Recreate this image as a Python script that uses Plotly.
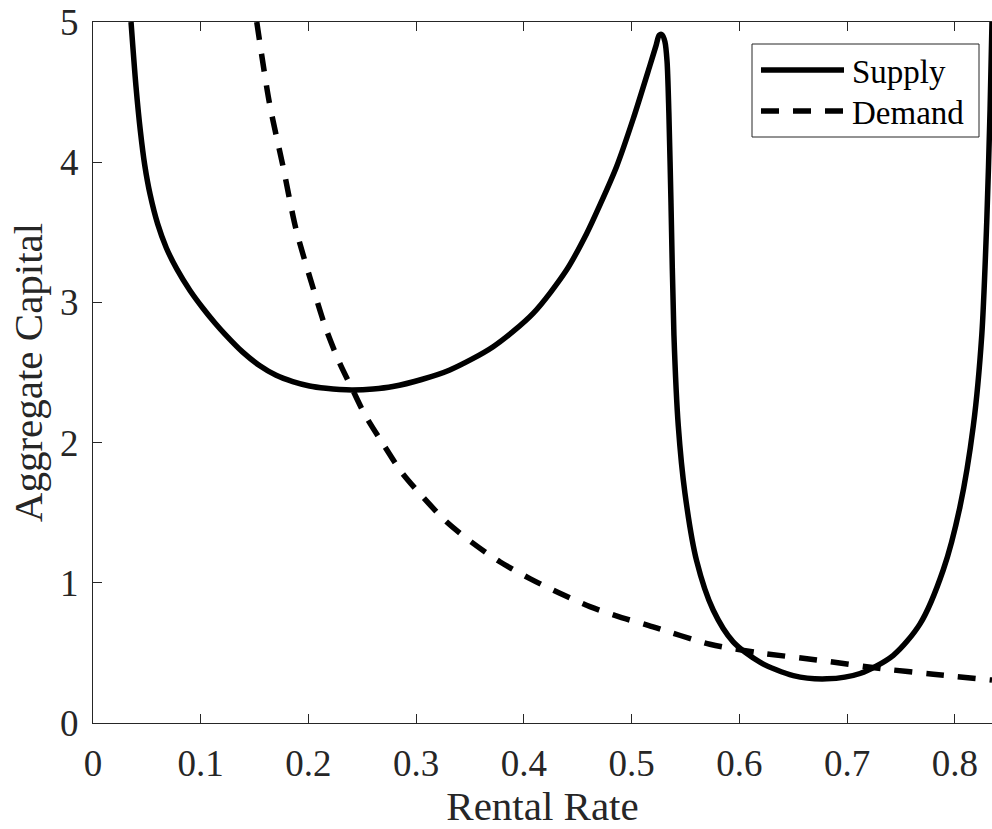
import plotly.graph_objects as go

# ---- data ----
supply_r = [0.0353, 0.0399, 0.0440, 0.0480, 0.0530, 0.0600, 0.0680, 0.0780, 0.0900, 0.1019,
            0.1130, 0.1235, 0.1390, 0.1545, 0.1700, 0.1854, 0.2010, 0.2163, 0.2290, 0.2411,
            0.2600, 0.2783, 0.3050, 0.3312, 0.3714, 0.4085, 0.4395, 0.4581, 0.4705, 0.4860,
            0.5014, 0.5169, 0.5225, 0.5255, 0.5280, 0.5308, 0.5328, 0.5345, 0.5364, 0.5392,
            0.5432, 0.5494, 0.5602, 0.5757, 0.5942, 0.619, 0.65, 0.681, 0.7119, 0.7428,
            0.7676, 0.7892, 0.8047, 0.8171, 0.8249, 0.8295, 0.8326, 0.8344]
supply_k = [5.0, 4.54, 4.22, 3.98, 3.77, 3.56, 3.39, 3.235, 3.085, 2.96,
            2.855, 2.765, 2.645, 2.55, 2.48, 2.435, 2.404, 2.387, 2.378, 2.375,
            2.382, 2.40, 2.45, 2.518, 2.684, 2.922, 3.231, 3.49, 3.695, 3.97,
            4.31, 4.69, 4.83, 4.905, 4.91, 4.86, 4.72, 4.35, 3.73, 2.765,
            2.122, 1.64, 1.158, 0.804, 0.579, 0.434, 0.338, 0.315, 0.353, 0.483,
            0.707, 1.093, 1.543, 2.122, 2.765, 3.569, 4.373, 5.0]

demand_r = [0.152, 0.1638, 0.1761, 0.1885, 0.204, 0.2163, 0.2288, 0.2411, 0.2523, 0.2693,
            0.2863, 0.3064, 0.3281, 0.3513, 0.3776, 0.4055, 0.4333, 0.4612, 0.4906, 0.5153,
            0.5726, 0.619, 0.6717, 0.7335, 0.78, 0.8344]
demand_k = [5.0, 4.42, 3.98, 3.52, 3.11, 2.81, 2.57, 2.375, 2.20, 1.99,
            1.79, 1.61, 1.435, 1.29, 1.15, 1.03, 0.925, 0.83, 0.752, 0.697,
            0.562, 0.50, 0.45, 0.386, 0.348, 0.306]

x_ticks = [0, 0.1, 0.2, 0.3, 0.4, 0.5, 0.6, 0.7, 0.8]
x_labels = ["0", "0.1", "0.2", "0.3", "0.4", "0.5", "0.6", "0.7", "0.8"]
y_ticks = [0, 1, 2, 3, 4, 5]
y_labels = ["0", "1", "2", "3", "4", "5"]
series_names = ["Supply", "Demand"]

FONT = "Liberation Serif, Times New Roman, serif"
AX = "#262626"
LW = 5.5
DASH = "18px,14px"

fig = go.Figure()
fig.add_trace(go.Scatter(x=supply_r, y=supply_k, mode="lines", name=series_names[0],
                         line=dict(color="black", width=LW, shape="spline", smoothing=0.8),
                         showlegend=False))
fig.add_trace(go.Scatter(x=demand_r, y=demand_k, mode="lines", name=series_names[1],
                         line=dict(color="black", width=LW, dash=DASH, shape="spline", smoothing=0.8),
                         showlegend=False))

# manual legend (MATLAB style)
L, R, T, B = 93, 992, 22, 723
def px(x):
    return (x - L) / (R - L)
def py(y):
    return (B - y) / (B - T)

fig.add_shape(type="rect", xref="paper", yref="paper",
              x0=px(752), x1=px(979), y0=py(137), y1=py(44),
              line=dict(color=AX, width=1), fillcolor="white", layer="above")
for i, (name, dash) in enumerate(zip(series_names, ["solid", DASH])):
    yy = [70, 111][i]
    fig.add_shape(type="line", xref="paper", yref="paper",
                  x0=px(761), x1=px(844), y0=py(yy), y1=py(yy),
                  line=dict(color="black", width=LW, dash=dash), layer="above")
    fig.add_annotation(xref="paper", yref="paper", x=px(850), y=py(yy + 2),
                       text=name, showarrow=False, xanchor="left", yanchor="middle",
                       font=dict(family=FONT, size=33, color="black"))

fig.update_layout(
    width=992, height=829,
    margin=dict(l=L, r=992 - R, t=T, b=829 - B),
    paper_bgcolor="white", plot_bgcolor="white",
    font=dict(family=FONT, color=AX),
    xaxis=dict(range=[0, 0.8344], tickvals=x_ticks, ticktext=x_labels,
               showline=True, linecolor=AX, linewidth=1, mirror="ticks",
               ticks="inside", ticklen=9, tickcolor=AX, showgrid=False, zeroline=False,
               ticklabelstandoff=8,
               tickfont=dict(family=FONT, size=37, color=AX),
               title=dict(text="Rental Rate", font=dict(family=FONT, size=41, color=AX), standoff=2)),
    yaxis=dict(range=[0, 5], tickvals=y_ticks, ticktext=y_labels,
               showline=True, linecolor=AX, linewidth=1,
               ticks="inside", ticklen=9, tickcolor=AX, showgrid=False, zeroline=False,
               ticklabelstandoff=6,
               tickfont=dict(family=FONT, size=37, color=AX),
               title=dict(text="Aggregate Capital", font=dict(family=FONT, size=41, color=AX), standoff=4)),
)

fig.write_html("out.html")
